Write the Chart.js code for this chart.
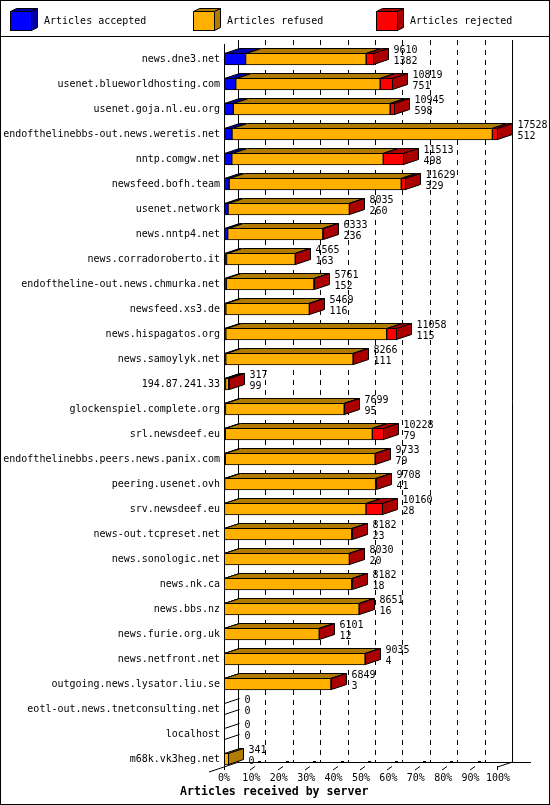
<!DOCTYPE html>
<html>
<head>
<meta charset="utf-8">
<script src="https://cdn.jsdelivr.net/npm/chart.js@4.4.1/dist/chart.umd.min.js"></script>
<style>
body { margin: 0; background: #fff; }
#wrap { width: 550px; height: 805px; }
</style>
</head>
<body>
<div id="wrap"><canvas id="feedChart"></canvas></div>
<script>
var servers = [
    "news.dne3.net", "usenet.blueworldhosting.com", "usenet.goja.nl.eu.org",
    "endofthelinebbs-out.news.weretis.net", "nntp.comgw.net", "newsfeed.bofh.team",
    "usenet.network", "news.nntp4.net", "news.corradoroberto.it",
    "endoftheline-out.news.chmurka.net", "newsfeed.xs3.de", "news.hispagatos.org",
    "news.samoylyk.net", "194.87.241.33", "glockenspiel.complete.org",
    "srl.newsdeef.eu", "endofthelinebbs.peers.news.panix.com", "peering.usenet.ovh",
    "srv.newsdeef.eu", "news-out.tcpreset.net", "news.sonologic.net",
    "news.nk.ca", "news.bbs.nz", "news.furie.org.uk",
    "news.netfront.net", "outgoing.news.lysator.liu.se", "eotl-out.news.tnetconsulting.net",
    "localhost", "m68k.vk3heg.net"
];
var accepted = [1382, 751, 598, 512, 498, 329, 260, 236, 163, 152, 116, 115, 111, 99, 95,
    79, 79, 41, 28, 23, 20, 18, 16, 12, 4, 3, 0, 0, 0];
var refused = [7711, 9238, 10032, 16656, 9690, 11008, 7760, 6085, 4394, 5599, 5343, 10293, 8145, 198, 7594,
    9409, 9590, 9657, 9055, 8149, 8000, 8154, 8625, 6079, 9021, 6836, 0, 0, 341];
var rejected = [517, 830, 315, 360, 1325, 292, 15, 12, 8, 10, 10, 650, 10, 20, 10,
    740, 64, 10, 1077, 10, 10, 10, 10, 10, 10, 10, 0, 0, 0];
var seriesNames = ["Articles accepted", "Articles refused", "Articles rejected"];
var tickPercents = [0, 10, 20, 30, 40, 50, 60, 70, 80, 90, 100];
var axisTitle = "Articles received by server";

var totals = servers.map(function (s, i) { return accepted[i] + refused[i] + rejected[i]; });
var maxTotal = Math.max.apply(null, totals);

function toPercent(arr) {
    return arr.map(function (v) { return v / maxTotal * 100; });
}

var frontColors = ["#0000ff", "#ffb000", "#ff0000"];
var darkColors = ["#0000aa", "#b07b00", "#aa0000"];
var DX = 15, DY = 5, BAR_H = 12;
var MONO = '"DejaVu Sans Mono", monospace';

function line(ctx, x1, y1, x2, y2) {
    ctx.beginPath();
    ctx.moveTo(x1, y1);
    ctx.lineTo(x2, y2);
    ctx.stroke();
}

function poly(ctx, pts, fill) {
    ctx.beginPath();
    ctx.moveTo(pts[0][0], pts[0][1]);
    for (var k = 1; k < pts.length; k++) ctx.lineTo(pts[k][0], pts[k][1]);
    ctx.closePath();
    ctx.fillStyle = fill;
    ctx.fill();
    ctx.stroke();
}

var threeD = {
    id: "threeD",
    beforeDraw: function (chart) {
        var ctx = chart.ctx;
        ctx.save();
        ctx.fillStyle = "#fff";
        ctx.fillRect(0, 0, chart.width, chart.height);
        ctx.restore();
    },
    beforeDatasetsDraw: function (chart) {
        var ctx = chart.ctx, xs = chart.scales.x;
        var backTop = 40, floorFront = 767, floorBack = floorFront - DY;
        ctx.save();
        ctx.strokeStyle = "#000";
        ctx.lineWidth = 1;
        tickPercents.forEach(function (p) {
            var bx = Math.round(xs.getPixelForValue(p) + DX) - 0.5;
            ctx.setLineDash(p === 0 || p === 100 ? [] : [5, 5]);
            line(ctx, bx, backTop, bx, floorBack + 0.5);
        });
        ctx.setLineDash([]);
        var x0 = xs.getPixelForValue(0), x100 = xs.getPixelForValue(100);
        line(ctx, x0 + DX, floorBack + 0.5, x100 + DX + 18, floorBack + 0.5);
        line(ctx, x0 - DX, floorFront + DY, x0 + DX, floorBack);
        line(ctx, x100 - 0.5, floorFront + 3, x100 - 0.5, floorFront - 1);
        line(ctx, x100 - 0.5, floorFront, x100 + DX - 0.5, floorBack);
        tickPercents.forEach(function (p) {
            if (p === 0 || p === 100) return;
            var fx = Math.round(xs.getPixelForValue(p));
            line(ctx, fx - 1, floorFront + 3, fx + 4, floorFront - 0.5);
            ctx.fillStyle = "#000";
            ctx.fillRect(fx + 7, floorBack - 1, 3, 2);
        });
        ctx.restore();
    },
    afterDatasetsDraw: function (chart) {
        var ctx = chart.ctx, xs = chart.scales.x;
        var x0 = xs.getPixelForValue(0);
        var metas = chart.data.datasets.map(function (d, i) { return chart.getDatasetMeta(i); });
        ctx.save();
        ctx.strokeStyle = "#000";
        ctx.lineWidth = 1;
        ctx.font = "10px " + MONO;
        ctx.textBaseline = "middle";
        ctx.textAlign = "left";
        servers.forEach(function (name, j) {
            var c = metas[0].data[j].y;
            var top = c - BAR_H / 2 + 0.5, bot = c + BAR_H / 2 - 0.5;
            var end = Math.round(x0) + 0.5, last = -1;
            chart.data.datasets.forEach(function (ds, i) {
                if (!(ds.data[j] > 0)) return;
                var el = metas[i].data[j];
                var a = Math.round(el.base) + 0.5;
                var b = Math.max(a, Math.round(el.x) - 0.5);
                poly(ctx, [[a, top], [a + DX, top - DY], [b + DX, top - DY], [b, top]], darkColors[i]);
                end = b;
                last = i;
            });
            if (last >= 0) {
                poly(ctx, [[end, top], [end + DX, top - DY], [end + DX, bot - DY], [end, bot]], darkColors[last]);
            } else {
                line(ctx, end, top, end + DX, top - DY);
                line(ctx, end, bot, end + DX, bot - DY);
            }
            ctx.fillStyle = "#000";
            ctx.fillText(String(totals[j]), end + DX + 5, c - 9);
            ctx.fillText(String(accepted[j]), end + DX + 5, c + 2);
        });
        var fx = Math.round(x0) + 0.5;
        line(ctx, fx, 44, fx, 770);
        ctx.restore();
    },
    afterDraw: function (chart) {
        var ctx = chart.ctx, xs = chart.scales.x;
        ctx.save();
        ctx.strokeStyle = "#000";
        ctx.lineWidth = 1;
        // legend
        chart.data.datasets.forEach(function (ds, i) {
            var lx = 10 + i * 183, ly = 11.5, w = 21, h = 19, d = 6, e = 3;
            ctx.fillStyle = ds.backgroundColor;
            ctx.fillRect(lx + 0.5, ly, w, h);
            ctx.strokeRect(lx + 0.5, ly, w, h);
            poly(ctx, [[lx + 0.5, ly], [lx + 0.5 + d, ly - e], [lx + 0.5 + w + d, ly - e], [lx + 0.5 + w, ly]], darkColors[i]);
            poly(ctx, [[lx + 0.5 + w, ly], [lx + 0.5 + w + d, ly - e], [lx + 0.5 + w + d, ly + h - e], [lx + 0.5 + w, ly + h]], darkColors[i]);
            ctx.fillStyle = "#000";
            ctx.font = "10px " + MONO;
            ctx.textBaseline = "middle";
            ctx.textAlign = "left";
            ctx.fillText(ds.label, lx + 34, 21);
        });
        line(ctx, 0, 36.5, chart.width, 36.5);
        // x tick labels and title
        ctx.fillStyle = "#000";
        ctx.font = "10px " + MONO;
        ctx.textAlign = "center";
        ctx.textBaseline = "middle";
        tickPercents.forEach(function (p) {
            ctx.fillText(p + "%", xs.getPixelForValue(p), 778);
        });
        ctx.font = "bold 11.6px " + MONO;
        ctx.textAlign = "left";
        ctx.fillText(axisTitle, 180, 792);
        ctx.strokeRect(0.5, 0.5, chart.width - 1, chart.height - 1);
        ctx.restore();
    }
};

var datasets = [accepted, refused, rejected].map(function (arr, i) {
    return {
        label: seriesNames[i],
        data: toPercent(arr),
        backgroundColor: frontColors[i],
        borderColor: "#000",
        borderWidth: 1,
        borderSkipped: false,
        barThickness: BAR_H,
        stack: "all"
    };
});

var ctx = document.getElementById("feedChart");
var feedChart = new Chart(ctx, {
    type: "bar",
    data: {
        labels: servers,
        datasets: datasets
    },
    options: {
        indexAxis: "y",
        responsive: true,
        maintainAspectRatio: false,
        animation: false,
        devicePixelRatio: 1,
        layout: {
            padding: { top: 46.5, bottom: 33.5, left: 0, right: 52 }
        },
        plugins: {
            legend: { display: false },
            tooltip: { enabled: false }
        },
        scales: {
            x: {
                stacked: true,
                display: false,
                min: 0,
                max: 100
            },
            y: {
                stacked: true,
                grid: { display: false, drawTicks: false },
                border: { display: false },
                ticks: {
                    autoSkip: false,
                    padding: 4,
                    color: "#000",
                    font: { family: MONO, size: 10 }
                },
                afterFit: function (scale) {
                    scale.width = 224;
                }
            }
        }
    },
    plugins: [threeD]
});
</script>
</body>
</html>
